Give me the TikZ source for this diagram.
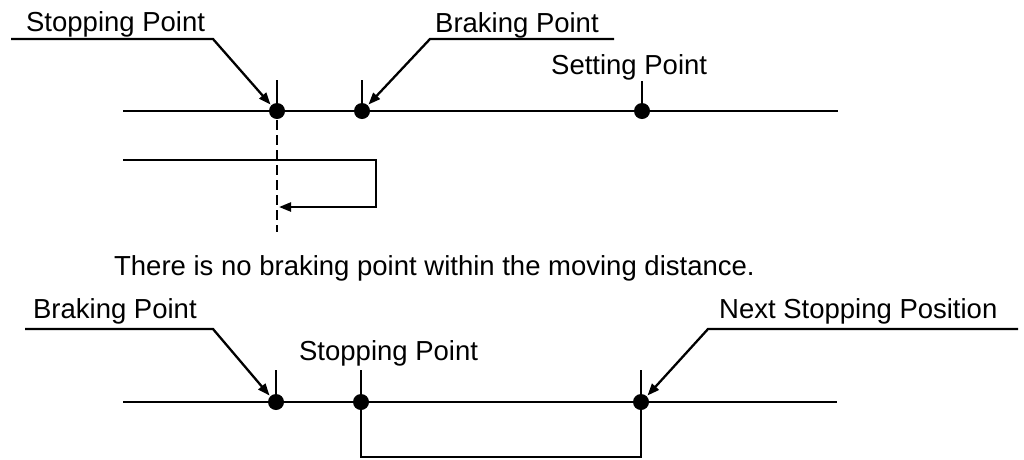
\documentclass[tikz,border=0pt]{standalone}
\usepackage{fontspec}
\setmainfont{Liberation Sans}
\usetikzlibrary{arrows.meta}
\begin{document}
\begin{tikzpicture}[x=1pt,y=-1pt, line width=2.3pt,
  lbl/.style={inner sep=0pt, anchor=base west, font=\fontsize{27.5}{33}\selectfont},
  dot/.style={circle, fill, inner sep=0pt, minimum size=16pt},
  ptr/.style={-{Triangle[length=12pt,width=9pt]}},
  dashline/.style={dash pattern=on 10pt off 5pt}]
\useasboundingbox (0,0) rectangle (1024,459);
% ---------- top diagram ----------
\coordinate (tL) at (123,111);
\coordinate (tR) at (838,111);
\draw (tL) -- (tR);
\node[dot] (s1) at (277,111) {};
\node[dot] (b1) at (362,111) {};
\node[dot] (p1) at (642,111) {};
\draw (s1.center) -- (277,80);
\draw (b1.center) -- (362,80);
\draw (p1.center) -- (642,81);
\coordinate (dashEnd) at (277,232);
\draw[dashline] (s1.south) -- (dashEnd);
\node[lbl] (ls1) at (25,31) {Stopping Point};
\coordinate (u1a) at (11,39);
\coordinate (u1b) at (213,39);
\draw[ptr] (u1a) -- (u1b) -- (s1.north west);
\node[lbl] (lb1) at (434,32) {Braking Point};
\coordinate (u2a) at (614,39);
\coordinate (u2b) at (430,39);
\draw[ptr] (u2a) -- (u2b) -- (b1.north east);
\node[lbl] (lp1) at (550,74) {Setting Point};
\coordinate (r1) at (123,160);
\coordinate (r2) at (376,160);
\coordinate (r3) at (376,207);
\coordinate (r4) at (279,207);
\draw[ptr] (r1) -- (r2) -- (r3) -- (r4);
% ---------- message ----------
\node[lbl] (msg) at (113,275) {There is no braking point within the moving distance.};
% ---------- bottom diagram ----------
\coordinate (bL) at (123,402);
\coordinate (bR) at (837,402);
\draw (bL) -- (bR);
\node[dot] (b2) at (276,402) {};
\node[dot] (s2) at (361,402) {};
\node[dot] (n2) at (641,402) {};
\draw (b2.center) -- (276,370);
\draw (s2.center) -- (361,370);
\draw (n2.center) -- (641,370);
\node[lbl] (lb2) at (32,318) {Braking Point};
\coordinate (u3a) at (25,329);
\coordinate (u3b) at (213,329);
\draw[ptr] (u3a) -- (u3b) -- (b2.north west);
\node[lbl] (ls2) at (298,360) {Stopping Point};
\node[lbl] (ln2) at (718,318) {Next Stopping Position};
\coordinate (u4a) at (1018,329);
\coordinate (u4b) at (708,329);
\draw[ptr] (u4a) -- (u4b) -- (n2.north east);
\coordinate (k1) at (361,457);
\coordinate (k2) at (641,457);
\draw (s2.center) -- (k1) -- (k2) -- (n2.center);
\end{tikzpicture}
\end{document}
